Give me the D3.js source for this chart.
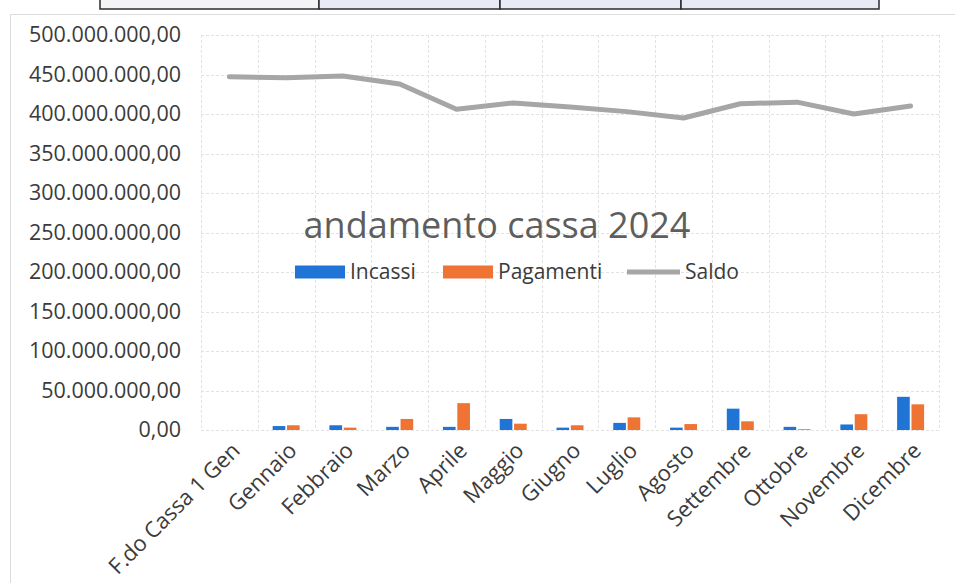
<!DOCTYPE html>
<html>
<head>
<meta charset="utf-8">
<script src="https://cdn.jsdelivr.net/npm/d3@7"></script>
<style>
  body { margin: 0; background: #fff; }
  svg { display: block; font-family: "Open Sans", sans-serif; }
</style>
</head>
<body>
<div id="chart-container"></div>
<script>
// categories and series (euro)
const categories = ["F.do Cassa 1 Gen", "Gennaio", "Febbraio", "Marzo", "Aprile", "Maggio",
    "Giugno", "Luglio", "Agosto", "Settembre", "Ottobre", "Novembre", "Dicembre"];
const incassi = [0, 5e6, 6e6, 4e6, 4e6, 14e6, 3e6, 9e6, 3e6, 27e6, 4e6, 7e6, 42e6];
const pagamenti = [0, 6e6, 3e6, 14e6, 34e6, 8e6, 6e6, 16e6, 7.5e6, 11e6, 1e6, 20e6, 32.5e6];
const saldo = [447e6, 446e6, 448e6, 438e6, 406e6, 414e6, 409e6, 403e6, 395e6, 413e6, 415e6, 400e6, 410e6];
const yTicks = [0, 50e6, 100e6, 150e6, 200e6, 250e6, 300e6, 350e6, 400e6, 450e6, 500e6];
const seriesNames = ["Incassi", "Pagamenti", "Saldo"];

const width = 955, height = 583;
const colors = { Incassi: "#1f74d6", Pagamenti: "#ef7434", Saldo: "#a6a6a6" };
const textColor = "#3b3b3b";

const itFmt = d3.formatLocale({ decimal: ",", thousands: ".", grouping: [3], currency: ["", "€"] }).format(",.2f");

const svg = d3.select("#chart-container").append("svg")
    .attr("width", width)
    .attr("height", height);

// scanned page bits: table row at top and chart frame
const table = svg.append("g");
const cells = [[100, 319], [319, 500], [500, 681], [681, 879]];
cells.forEach((c, i) => {
    table.append("rect")
        .attr("x", c[0]).attr("y", -10)
        .attr("width", c[1] - c[0]).attr("height", 19)
        .attr("fill", i === 0 ? "#f3f3f6" : "#e8eaf6")
        .attr("stroke", "#2b2b2b")
        .attr("stroke-width", 1.5);
});

svg.append("rect")
    .attr("x", 10.5).attr("y", 14.5)
    .attr("width", 950).attr("height", 600)
    .attr("fill", "none")
    .attr("stroke", "#dcdcdc");

// scales
const x = d3.scaleBand()
    .domain(categories)
    .range([201, 939]);

const x1 = d3.scaleBand()
    .domain(["Incassi", "Pagamenti"])
    .range([0, 27])
    .paddingInner(0.12);

const y = d3.scaleLinear()
    .domain([0, 500e6])
    .range([430, 35]);

// gridlines
const grid = svg.append("g")
    .attr("stroke", "#e2e2e2")
    .attr("stroke-width", 1)
    .attr("stroke-dasharray", "3,2");

grid.selectAll(".hgrid")
    .data(yTicks)
    .enter().append("line")
    .attr("class", "hgrid")
    .attr("x1", x.range()[0]).attr("x2", x.range()[1])
    .attr("y1", d => Math.round(y(d)) + 0.5)
    .attr("y2", d => Math.round(y(d)) + 0.5);

grid.selectAll(".vgrid")
    .data(categories.concat(["__end"]))
    .enter().append("line")
    .attr("class", "vgrid")
    .attr("x1", (d, i) => Math.round(x.range()[0] + i * x.step()) + 0.5)
    .attr("x2", (d, i) => Math.round(x.range()[0] + i * x.step()) + 0.5)
    .attr("y1", y(500e6))
    .attr("y2", y(0));

// y axis labels
const yAxis = svg.append("g")
    .attr("transform", "translate(181,0)")
    .call(d3.axisLeft(y).tickValues(yTicks).tickFormat(itFmt).tickSize(0).tickPadding(0));
yAxis.select(".domain").remove();
yAxis.selectAll("text")
    .attr("fill", textColor)
    .style("font-size", "21.5px")
    .style("font-family", "'Open Sans', sans-serif");

// x axis labels
const xAxis = svg.append("g")
    .attr("transform", `translate(0,${y(0)})`)
    .call(d3.axisBottom(x).tickSize(0).tickPadding(0));
xAxis.select(".domain").remove();
xAxis.selectAll("text")
    .attr("fill", textColor)
    .style("font-size", "22px")
    .style("font-family", "'Open Sans', sans-serif")
    .attr("text-anchor", "end")
    .attr("dy", null)
    .attr("y", 0)
    .attr("transform", "translate(12,22) rotate(-45)");

// bars
const groups = svg.append("g").selectAll("g")
    .data(categories)
    .enter().append("g")
    .attr("transform", d => `translate(${x(d) + x.bandwidth() / 2 - 13.5},0)`);

groups.selectAll("rect")
    .data((d, i) => [
        { key: "Incassi", value: incassi[i] },
        { key: "Pagamenti", value: pagamenti[i] }
    ])
    .enter().append("rect")
    .attr("x", d => x1(d.key))
    .attr("width", x1.bandwidth())
    .attr("y", d => y(d.value))
    .attr("height", d => y(0) - y(d.value))
    .attr("fill", d => colors[d.key]);

// saldo line
const line = d3.line()
    .x((d, i) => x(categories[i]) + x.bandwidth() / 2)
    .y(d => y(d));

svg.append("path")
    .datum(saldo)
    .attr("fill", "none")
    .attr("stroke", colors.Saldo)
    .attr("stroke-width", 5)
    .attr("stroke-linejoin", "round")
    .attr("stroke-linecap", "round")
    .attr("d", line);

// title
svg.append("text")
    .attr("x", 497)
    .attr("y", 238)
    .attr("text-anchor", "middle")
    .attr("fill", "#5e5e5e")
    .style("font-size", "36px")
    .text("andamento cassa 2024");

// legend
const legendY = y(200e6);
const legendItems = [
    { name: seriesNames[0], x: 295, type: "rect" },
    { name: seriesNames[1], x: 443, type: "rect" },
    { name: seriesNames[2], x: 627, type: "line" }
];
const legend = svg.append("g");
legendItems.forEach(item => {
    if (item.type === "rect") {
        legend.append("rect")
            .attr("x", item.x).attr("y", legendY - 6.5)
            .attr("width", 50).attr("height", 13)
            .attr("fill", colors[item.name]);
    } else {
        legend.append("line")
            .attr("x1", item.x).attr("x2", item.x + 53)
            .attr("y1", legendY).attr("y2", legendY)
            .attr("stroke", colors[item.name])
            .attr("stroke-width", 5);
    }
    legend.append("text")
        .attr("x", item.x + (item.type === "rect" ? 55 : 58))
        .attr("y", legendY)
        .attr("dy", "0.35em")
        .attr("fill", textColor)
        .style("font-size", "21px")
        .text(item.name);
});
</script>
</body>
</html>
